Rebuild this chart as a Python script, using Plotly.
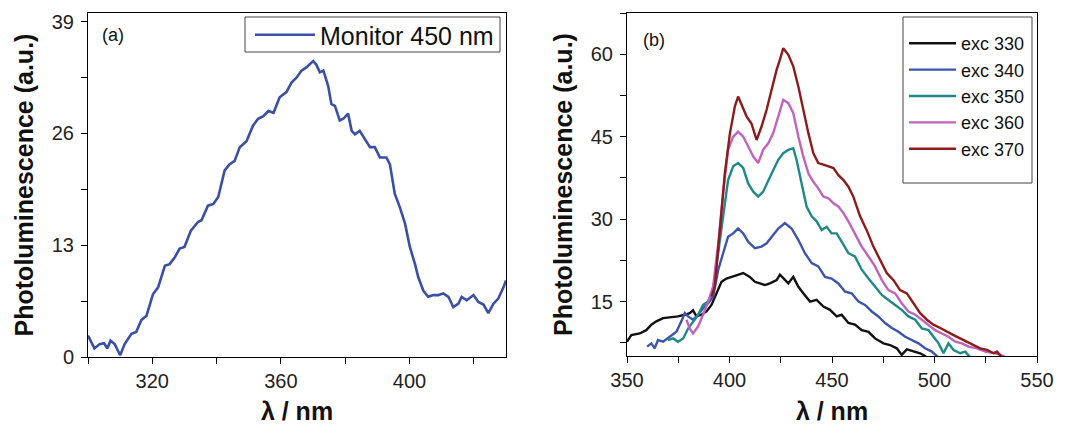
import plotly.graph_objects as go

# ---------- Panel (a): Monitor 450 nm ----------
wl_a = [300, 302, 303.6, 305, 306, 307, 308.3, 310, 311.4, 313.5, 315, 316.6, 318.2, 320.2, 321.8,
        323.9, 325.4, 327, 328.5, 330, 332, 334.2, 335.3, 337.3, 339, 340.5, 342.5, 344, 345.6,
        347.2, 349.3, 351.3, 352.9, 354.5, 356.1, 357.7, 359.6, 361.7, 363.3, 364.9, 366.4, 368,
        370, 371, 372.1, 373.2, 374.7, 375.7, 376.8, 378.3, 379.4, 380.9, 382, 383, 384.5, 386.1,
        387.7, 389.2, 390.8, 392.8, 393.9, 395.4, 397, 398.6, 400.1, 401.7, 402.7, 404.3, 405.8,
        407.4, 409, 410.5, 412.1, 413.6, 415.2, 416.2, 417.8, 419.9, 421.4, 423, 424.5, 426.1,
        427.6, 429.2, 430]
pl_a = [2.5, 1.0, 1.5, 1.6, 1.0, 1.9, 1.5, 0.2, 1.5, 2.7, 2.9, 4.3, 4.8, 7.3, 8.1,
        10.6, 10.8, 11.6, 12.6, 12.8, 14.7, 15.7, 15.9, 17.6, 17.8, 18.6, 21.7, 22.4, 22.8,
        24.4, 25.1, 26.9, 27.7, 28.0, 28.6, 28.4, 30.2, 30.8, 31.9, 32.5, 33.3, 33.7,
        34.4, 34.0, 33.1, 33.3, 31.5, 29.4, 29.2, 27.5, 27.7, 28.3, 26.3, 25.9, 26.3, 25.3,
        24.4, 24.4, 23.2, 23.2, 22.4, 19.0, 17.4, 15.5, 12.8, 10.8, 9.3, 7.7, 7.0,
        7.2, 7.2, 7.4, 7.0, 5.8, 6.2, 7.0, 6.6, 7.2, 6.4, 6.1, 5.1, 6.2,
        6.8, 8.1, 8.9]

# ---------- Panel (b): excitation series ----------
wl_330 = [350, 352.1, 356.2, 359.4, 361.9, 364.3, 367.6, 370.8, 374.9, 378.2, 380.6, 382.2, 383.9,
          386.3, 388.8, 391.2, 393.6, 396.1, 398.5, 401, 403.4, 406.7, 409.9, 412.4, 414.8, 417.3,
          419.7, 423, 424.6, 426.2, 428.7, 431.1, 433.6, 436, 439.3, 442.5, 445.8, 449, 452.3,
          454.7, 458, 461.2, 464.5, 467.8, 471, 475.1, 478.3, 481.6, 484, 486.5, 489.7, 493,
          495.4, 497]
pl_330 = [7.7, 8.9, 9.2, 9.8, 10.8, 11.4, 12.0, 12.1, 12.3, 12.6, 12.9, 13.4, 12.3,
          12.6, 13.2, 14.4, 16.5, 18.6, 19.2, 19.5, 19.9, 20.2, 19.5, 18.6, 18.3, 18.0,
          18.3, 18.9, 19.9, 19.2, 18.3, 19.5, 17.7, 16.5, 15.0, 15.3, 14.1, 13.5, 12.3,
          12.6, 11.1, 10.8, 9.8, 9.5, 8.3, 7.4, 7.1, 6.5, 5.3, 6.3, 5.9, 5.6,
          5.1, 4.6]

wl_340 = [359.8, 361.9, 363.5, 365.1, 367.6, 370.8, 374.1, 376.5, 378.2, 379.8, 382.2, 384.7,
          387.1, 389.6, 392, 394.5, 396.9, 399.3, 401.8, 404.2, 406.7, 409.1, 412.4, 415.6,
          418.1, 420.5, 423.8, 427, 430.3, 433.6, 436.8, 440.1, 443.3, 446.6, 449.8, 453.1,
          456.4, 459.6, 462.9, 466.1, 469.4, 472.6, 475.9, 479.2, 482.4, 485.7, 488.9, 492.2,
          495.4, 498.7, 501.1, 503]
pl_340 = [6.8, 7.4, 6.5, 8.0, 7.7, 8.6, 9.5, 11.4, 12.9, 12.3, 11.7, 12.6,
          13.8, 14.7, 15.9, 20.8, 23.8, 26.8, 27.4, 28.3, 27.4, 25.9, 24.7, 25.0,
          25.6, 26.8, 28.3, 29.3, 28.3, 26.2, 23.8, 22.0, 21.4, 19.5, 19.2, 18.3,
          16.8, 16.5, 15.0, 14.4, 13.2, 12.3, 11.1, 10.2, 9.5, 8.6, 8.0, 7.4,
          6.5, 5.9, 5.1, 4.6]

wl_350 = [370, 372.5, 374.9, 377.4, 379.8, 382.2, 384.7, 387.1, 389.6, 392, 394.5, 396.9, 399.3,
          401.8, 404.2, 406.7, 409.1, 411.6, 414, 416.4, 418.9, 421.3, 423.8, 426.2, 428.7,
          431.1, 432.7, 435.2, 437.6, 440.1, 442.5, 445, 447.4, 449.8, 452.3, 454.7, 458,
          461.2, 464.5, 467.8, 471, 474.3, 477.5, 480.8, 484, 487.3, 490.6, 493.8, 497.1,
          499.5, 502, 504.4, 506.8, 509.3, 512.5, 515, 516.6, 518]
pl_350 = [8.0, 8.3, 7.7, 8.3, 10.1, 11.4, 12.6, 14.4, 15.0, 17.1, 23.8, 31.1, 37.1,
          39.6, 40.2, 39.3, 36.5, 35.0, 34.1, 35.0, 37.1, 38.9, 40.8, 42.0, 42.6,
          42.9, 40.8, 36.5, 32.3, 30.5, 29.6, 28.0, 28.6, 27.4, 27.4, 25.9, 23.8,
          23.2, 20.8, 19.2, 17.7, 16.2, 15.3, 14.4, 13.5, 12.3, 11.7, 10.1, 9.8,
          8.6, 7.4, 5.6, 7.4, 6.2, 5.6, 5.9, 5.1, 4.6]

wl_360 = [379, 380.6, 382.2, 384.7, 387.1, 389.6, 392, 394.5, 396.9, 399.3, 401.8, 404.2, 406.7,
          409.1, 411.6, 414, 416.4, 418.9, 421.3, 423.8, 426.2, 428.7, 431.1, 433.6, 436,
          438.5, 440.9, 443.3, 445.8, 448.2, 450.7, 453.1, 455.6, 458, 461.2, 464.5, 467.8,
          471, 474.3, 477.5, 480.8, 484, 487.3, 490.6, 493.8, 497.1, 500.3, 503.6, 506.8,
          510.1, 513.4, 516.6, 520.7, 524.8, 529.7, 533.7, 535]
pl_360 = [11.7, 10.1, 9.2, 10.5, 12.6, 15.0, 17.7, 25.6, 34.7, 42.6, 45.0, 45.9, 45.0,
          43.2, 41.4, 40.2, 42.6, 43.8, 45.6, 48.7, 51.7, 51.1, 49.3, 45.0, 41.4,
          38.3, 36.8, 35.6, 34.1, 33.8, 32.9, 32.3, 31.1, 29.6, 27.4, 25.0, 23.2,
          21.4, 18.9, 17.1, 16.5, 14.7, 13.2, 12.6, 11.7, 10.8, 9.8, 9.2, 8.6,
          7.7, 7.4, 6.8, 6.5, 5.9, 5.6, 5.1, 4.6]

wl_370 = [391.2, 392.8, 395.3, 397.7, 400.2, 402.6, 404.2, 405.9, 408.3, 410.7, 413.2, 415.6,
          418.1, 420.5, 423, 424.6, 426.2, 428.7, 431.1, 433.6, 436, 438.5, 440.9, 443.3,
          445.8, 448.2, 450.7, 453.1, 455.6, 458, 460.4, 463.7, 466.9, 470.2, 473.5, 476.7,
          480, 483.2, 486.5, 489.7, 493, 496.3, 499.5, 502.8, 506, 509.3, 512.5, 515.8,
          519.1, 522.3, 525.6, 528.8, 530.5, 532.1, 533.5]
pl_370 = [15.9, 17.7, 28.0, 38.3, 45.6, 50.5, 52.3, 50.8, 48.7, 47.4, 44.4, 46.8,
          49.9, 53.5, 57.2, 59.0, 61.1, 59.9, 57.8, 54.1, 49.9, 45.6, 42.0, 40.2,
          39.9, 39.6, 39.3, 38.0, 37.1, 35.9, 34.1, 30.5, 28.0, 25.0, 22.6, 20.2,
          18.9, 17.1, 16.5, 14.7, 12.9, 11.7, 10.8, 10.2, 9.5, 8.9, 8.3, 7.7,
          7.1, 6.5, 6.2, 5.6, 5.9, 5.1, 4.6]

series_b = [
    ("exc 330", wl_330, pl_330, "#111111"),
    ("exc 340", wl_340, pl_340, "#3d54ad"),
    ("exc 350", wl_350, pl_350, "#1d8a88"),
    ("exc 360", wl_360, pl_360, "#c063bd"),
    ("exc 370", wl_370, pl_370, "#8c1c1c"),
]

FONT = "Liberation Sans, Arial, sans-serif"
W, H = 1070, 425

fig = go.Figure()
fig.add_trace(go.Scatter(x=wl_a, y=pl_a, mode="lines", name="Monitor 450 nm",
                         line=dict(color="#3a4fa6", width=2.6), xaxis="x", yaxis="y",
                         legend="legend", showlegend=True))
for name, xs, ys, col in series_b:
    fig.add_trace(go.Scatter(x=xs, y=ys, mode="lines", name=name,
                             line=dict(color=col, width=2.4), xaxis="x2", yaxis="y2",
                             legend="legend2", showlegend=True))

axis_common = dict(showline=True, linecolor="black", linewidth=1, mirror=True,
                   ticks="outside", ticklen=6, tickwidth=1, tickcolor="black",
                   showgrid=False, zeroline=False, automargin=False,
                   tickfont=dict(family=FONT, size=20, color="#222"),
                   title_font=dict(family=FONT, size=25, color="#111"))

box_line = dict(color="#444", width=1)

fig.update_layout(
    width=W, height=H, margin=dict(l=0, r=0, t=0, b=0),
    paper_bgcolor="white", plot_bgcolor="white",
    font=dict(family=FONT), showlegend=True,
    xaxis=dict(axis_common, domain=[88 / W, 506 / W], range=[300, 430], tick0=320, dtick=40,
               minor=dict(dtick=20, tick0=300, ticks="outside", ticklen=6, tickcolor="black"),
               title=dict(text="<b>λ / nm</b>", standoff=18), anchor="y"),
    yaxis=dict(axis_common, domain=[1 - 357 / H, 1 - 13 / H], range=[0, 40], tick0=0, dtick=13,
               minor=dict(dtick=6.5, tick0=0, ticks="outside", ticklen=6, tickcolor="black"),
               ticklabelstandoff=3,
               title=dict(text="<b>Photoluminescence (a.u.)</b>", standoff=11), anchor="x"),
    xaxis2=dict(axis_common, domain=[627 / W, 1037 / W], range=[350, 550], tick0=350, dtick=50,
                minor=dict(dtick=25, tick0=350, ticks="outside", ticklen=6, tickcolor="black"),
                title=dict(text="<b>λ / nm</b>", standoff=18), anchor="y2"),
    yaxis2=dict(axis_common, domain=[1 - 356 / H, 1 - 13 / H], range=[5.1, 67.5], tick0=0, dtick=15,
                minor=dict(dtick=7.5, tick0=0, ticks="outside", ticklen=6, tickcolor="black"),
                ticklabelstandoff=3,
                title=dict(text="<b>Photoluminescence (a.u.)</b>", standoff=11), anchor="x2"),
    legend=dict(x=499 / W, y=1 - 35 / H, xanchor="right", yanchor="middle",
                bgcolor="rgba(0,0,0,0)", borderwidth=0, itemwidth=60,
                font=dict(family=FONT, size=25, color="#111")),
    legend2=dict(x=1030 / W, y=1 - 25 / H, xanchor="right", yanchor="top",
                 bgcolor="rgba(0,0,0,0)", borderwidth=0, itemwidth=47,
                 font=dict(family=FONT, size=18, color="#111")),
    shapes=[
        dict(type="rect", xref="paper", yref="paper", layer="below",
             x0=245 / W, x1=500 / W, y0=1 - 52 / H, y1=1 - 17 / H,
             line=box_line, fillcolor="white"),
        dict(type="rect", xref="paper", yref="paper",
             x0=903 / W, x1=1032 / W, y0=1 - 183 / H, y1=1 - 17 / H,
             line=box_line, fillcolor="rgba(0,0,0,0)"),
    ],
    annotations=[
        dict(text="(a)", xref="paper", yref="paper", x=100 / W, y=1 - 35 / H,
             xanchor="left", yanchor="middle", showarrow=False,
             font=dict(family=FONT, size=18, color="#111")),
        dict(text="(b)", xref="paper", yref="paper", x=641 / W, y=1 - 40 / H,
             xanchor="left", yanchor="middle", showarrow=False,
             font=dict(family=FONT, size=18, color="#111")),
    ],
)

fig.write_html("out.html")
